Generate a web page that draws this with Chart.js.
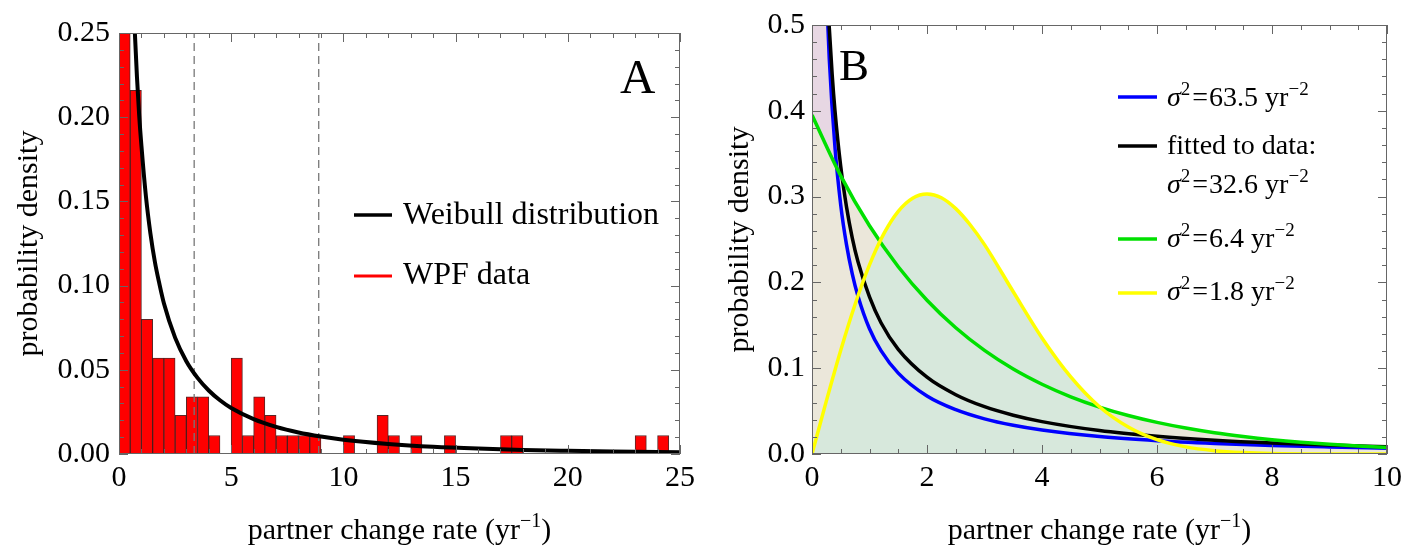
<!DOCTYPE html>
<html><head><meta charset="utf-8">
<script src="https://cdn.jsdelivr.net/npm/chart.js@4/dist/chart.umd.min.js"></script>
<style>
html,body{margin:0;padding:0;background:#fff;width:1408px;height:550px;overflow:hidden}
#wa{position:absolute;left:0;top:0;width:704px;height:550px}
#wb{position:absolute;left:704px;top:0;width:704px;height:550px}
</style></head><body>
<div id="wa"><canvas id="ca" width="704" height="550"></canvas></div>
<div id="wb"><canvas id="cb" width="704" height="550"></canvas></div>
<script>
// ---------- Panel A data ----------
const histBinCenters = [0.25,0.75,1.25,1.75,2.25,2.75,3.25,3.75,4.25,5.25,5.75,6.25,6.75,7.25,7.75,8.25,8.75,10.25,11.75,12.25,13.25,14.75,17.25,17.75,23.25,24.25];
const histDensity    = [0.33,0.216,0.080,0.057,0.057,0.023,0.034,0.034,0.011,0.057,0.011,0.034,0.023,0.011,0.011,0.011,0.011,0.011,0.023,0.011,0.011,0.011,0.011,0.011,0.011,0.011];
const weibullX = [0.6,0.7,0.8,0.9,1.0,1.2,1.4,1.6,1.8,2.0,2.5,3,3.5,4,4.5,5,6,7,8,9,10,12,14,16,18,20,22,25];
const weibullY = [0.288,0.252,0.224,0.201,0.183,0.153,0.131,0.114,0.101,0.0895,0.0691,0.0551,0.0452,0.0377,0.0319,0.0273,0.0207,0.0161,0.0128,0.0104,0.0085,0.0060,0.0043,0.0032,0.0024,0.0019,0.0015,0.0011];
const dashedLineX = [3.35, 8.9];
const aXTicks = [0,5,10,15,20,25];
const aYTicks = [0,0.05,0.10,0.15,0.20,0.25];

// ---------- Panel B data ----------
const blueX  = [0.01,0.05,0.1,0.2,0.25,0.3,0.4,0.5,0.6,0.7,0.8,1.0,1.2,1.5,2,2.5,3,3.5,4,5,6,7,8,9,10];
const blueY  = [5.92,1.92,1.139,0.652,0.540,0.461,0.357,0.290,0.244,0.210,0.184,0.146,0.1205,0.0943,0.0676,0.0516,0.0409,0.0334,0.0279,0.0203,0.0155,0.0123,0.0099,0.0082,0.0068];
const blackX = [0.01,0.05,0.1,0.2,0.25,0.3,0.35,0.4,0.5,0.6,0.7,0.8,1.0,1.2,1.5,2,2.5,3,3.5,4,5,6,7,8,9,10];
const blackY = [4.05,1.62,1.058,0.666,0.568,0.4975,0.443,0.400,0.335,0.288,0.252,0.224,0.183,0.153,0.122,0.0895,0.0691,0.0551,0.0452,0.0377,0.0273,0.0207,0.0161,0.0128,0.0104,0.0085];
const greenX = [0,0.5,1,1.5,2,2.5,3,3.5,4,4.5,5,5.5,6,6.5,7,7.5,8,8.5,9,9.5,10];
const greenY = [0.395,0.3242,0.266,0.2183,0.1792,0.1471,0.1207,0.099,0.0813,0.0667,0.0547,0.0449,0.0369,0.0303,0.0248,0.0204,0.0167,0.0137,0.0113,0.0092,0.0076];
const yellowX = [0,0.25,0.5,0.75,1,1.25,1.5,1.75,2,2.25,2.5,2.75,3,3.5,4,4.5,5,5.5,6,6.5,7,7.5,8,9,10];
const yellowY = [0,0.0619,0.121,0.1746,0.2204,0.2568,0.2828,0.2981,0.303,0.2987,0.286,0.2672,0.244,0.1891,0.1353,0.0899,0.0551,0.0315,0.0167,0.0083,0.0039,0.0017,0.0007,0.0001,0];
const bXTicks = [0,2,4,6,8,10];
const bYTicks = [0,0.1,0.2,0.3,0.4,0.5];
const bSigmaLabels = ['63.5','32.6','6.4','1.8'];

// ---------- helpers ----------
const FAM = '"Liberation Serif", "Times New Roman", serif';
const pts = (xs, ys) => xs.map((x, i) => ({x, y: ys[i]}));

function fontStr(s){ return (s.italic ? 'italic ' : '') + s.size + 'px ' + FAM; }
function drawRich(ctx, x, y, segs, align){
  const w = segs.map(s => { if (s.gap) return s.gap; ctx.font = fontStr(s); return ctx.measureText(s.t).width; });
  const total = w.reduce((a,b)=>a+b,0);
  let cx = align === 'center' ? x - total/2 : x;
  segs.forEach((s,i) => {
    if (!s.gap) { ctx.font = fontStr(s); ctx.fillText(s.t, cx, y + (s.dy || 0)); }
    cx += w[i];
  });
}
function sigmaSegs(val, size){
  const sup = Math.round(size*0.68);
  return [{t:'\u03C3', size, italic:true},{t:'2', size:sup, dy:-Math.round(size*0.4)},{gap:2},
          {t:'=', size},{gap:1},{t:val+' yr', size},{t:'\u22122', size:sup, dy:-Math.round(size*0.4)}];
}

const frameTicks = {
  id:'frameTicks',
  afterDatasetsDraw(chart, args, o){
    const {ctx, chartArea:a, scales:{x, y}} = chart;
    ctx.save();
    ctx.strokeStyle = '#666'; ctx.lineWidth = 1;
    const xt = (v, len) => { const p = Math.round(x.getPixelForValue(v)) + 0.5;
      ctx.beginPath(); ctx.moveTo(p, a.bottom); ctx.lineTo(p, a.bottom - len);
      ctx.moveTo(p, a.top); ctx.lineTo(p, a.top + len); ctx.stroke(); };
    const yt = (v, len) => { const p = Math.round(y.getPixelForValue(v)) + 0.5;
      ctx.beginPath(); ctx.moveTo(a.left, p); ctx.lineTo(a.left + len, p);
      ctx.moveTo(a.right, p); ctx.lineTo(a.right - len, p); ctx.stroke(); };
    for (let v = x.min; v <= x.max + 1e-9; v += o.xMinor) xt(v, 5);
    for (let v = y.min; v <= y.max + 1e-9; v += o.yMinor) yt(v, 5);
    x.ticks.forEach(t => xt(t.value, 9));
    y.ticks.forEach(t => yt(t.value, 9));
    ctx.strokeRect(a.left + 0.5, a.top + 0.5, a.right - a.left - 1, a.bottom - a.top - 1);
    ctx.restore();
  }
};

const textsA = {
  id:'textsA',
  afterDraw(chart){
    const ctx = chart.ctx, a = chart.chartArea;
    ctx.save(); ctx.fillStyle = '#000'; ctx.textBaseline = 'alphabetic';
    ctx.font = '49px ' + FAM; ctx.fillText('A', 620, 93);
    // legend
    ctx.lineWidth = 3.5; ctx.strokeStyle = '#000';
    ctx.beginPath(); ctx.moveTo(354, 215); ctx.lineTo(392, 215); ctx.stroke();
    ctx.strokeStyle = '#ff0000'; ctx.lineWidth = 3;
    ctx.beginPath(); ctx.moveTo(354, 276); ctx.lineTo(392, 276); ctx.stroke();
    ctx.font = '32px ' + FAM;
    ctx.fillText('Weibull distribution', 403, 224);
    ctx.fillText('WPF data', 403, 284);
    // x title
    drawRich(ctx, (a.left + a.right)/2, 539, [{t:'partner change rate (yr', size:30},{t:'\u22121', size:20, dy:-12},{t:')', size:30}], 'center');
    ctx.restore();
  }
};
const textsB = {
  id:'textsB',
  afterDraw(chart){
    const ctx = chart.ctx, a = chart.chartArea;
    ctx.save(); ctx.fillStyle = '#000'; ctx.textBaseline = 'alphabetic';
    ctx.font = '45px ' + FAM; ctx.fillText('B', 135, 80);
    const lx0 = 414, lx1 = 453, tx = 463, fs = 28;
    const rows = [
      {c:'#0000ff', ly:97,  lines:[[sigmaSegs(bSigmaLabels[0], fs), 106]]},
      {c:'#000000', ly:146, lines:[[[{t:'fitted to data:', size:fs}], 154],[sigmaSegs(bSigmaLabels[1], fs), 193]]},
      {c:'#00e000', ly:239, lines:[[sigmaSegs(bSigmaLabels[2], fs), 247]]},
      {c:'#ffff00', ly:293, lines:[[sigmaSegs(bSigmaLabels[3], fs), 300]]}
    ];
    rows.forEach(r => {
      ctx.strokeStyle = r.c; ctx.lineWidth = 3.5;
      ctx.beginPath(); ctx.moveTo(lx0, r.ly); ctx.lineTo(lx1, r.ly); ctx.stroke();
      r.lines.forEach(([segs, by]) => drawRich(ctx, tx, by, segs, 'left'));
    });
    drawRich(ctx, (a.left + a.right)/2, 539, [{t:'partner change rate (yr', size:30},{t:'\u22121', size:20, dy:-12},{t:')', size:30}], 'center');
    ctx.restore();
  }
};

function scaleOpts(o){
  return {
    type:'linear', min:o.min, max:o.max, offset:false,
    grid:{display:false, drawTicks:false}, border:{display:false},
    ticks:{font:{family:FAM, size:o.fs}, color:'#000', padding:o.pad, maxRotation:0, autoSkip:false, callback:o.fmt},
    afterBuildTicks: s => { s.ticks = o.ticks.map(v => ({value:v})); },
    afterFit: s => { if (o.w !== undefined) s.width = o.w; if (o.h !== undefined) s.height = o.h; },
    title: o.title ? {display:true, text:o.title, font:{family:FAM, size:30}, color:'#000', padding:{top:o.titlePad, bottom:0}} : {display:false}
  };
}

// ---------- Chart A ----------
new Chart(document.getElementById('ca'), {
  type:'bar',
  data:{datasets:[
    {type:'line', data:pts(weibullX, weibullY), borderColor:'#000', borderWidth:4, pointRadius:0, cubicInterpolationMode:'monotone', fill:false},
    {type:'line', data:[{x:dashedLineX[0], y:0},{x:dashedLineX[0], y:0.25}], borderColor:'#777', borderWidth:1.3, borderDash:[8,5], pointRadius:0, fill:false},
    {type:'line', data:[{x:dashedLineX[1], y:0},{x:dashedLineX[1], y:0.25}], borderColor:'#777', borderWidth:1.3, borderDash:[8,5], pointRadius:0, fill:false},
    {type:'bar', data:pts(histBinCenters, histDensity), backgroundColor:'#ff0000', borderColor:'rgba(60,0,0,0.85)', borderWidth:1, barPercentage:1, categoryPercentage:1}
  ]},
  options:{
    responsive:false, devicePixelRatio:1, animation:false, events:[],
    layout:{padding:{left:0, right:24, top:33, bottom:0}},
    plugins:{legend:{display:false}, tooltip:{enabled:false}, frameTicks:{xMinor:1, yMinor:0.01}},
    scales:{
      x: scaleOpts({min:0, max:25, fs:30, pad:6, ticks:aXTicks, fmt:v => String(v), h:96}),
      y: scaleOpts({min:0, max:0.25, fs:30, pad:9, ticks:aYTicks, fmt:v => v.toFixed(2), w:119, title:'probability density', titlePad:11})
    }
  },
  plugins:[frameTicks, textsA]
});

// ---------- Chart B ----------
const lineDs = (xs, ys, color, fillColor) => ({type:'line', data:pts(xs, ys), borderColor:color, borderWidth:3.5, pointRadius:0,
  cubicInterpolationMode:'monotone', fill:'origin', backgroundColor:fillColor});
new Chart(document.getElementById('cb'), {
  type:'line',
  data:{datasets:[
    lineDs(yellowX, yellowY, '#ffff00', 'rgb(215,232,220)'),
    lineDs(greenX, greenY, '#00e000', 'rgb(235,231,218)'),
    lineDs(blackX, blackY, '#000000', 'rgb(231,215,227)'),
    lineDs(blueX, blueY, '#0000ff', 'rgb(231,215,227)')
  ]},
  options:{
    responsive:false, devicePixelRatio:1, animation:false, events:[],
    layout:{padding:{left:0, right:19, top:22, bottom:0}},
    plugins:{legend:{display:false}, tooltip:{enabled:false}, filler:{drawTime:'beforeDatasetsDraw'}, frameTicks:{xMinor:0.5, yMinor:0.02}},
    scales:{
      x: scaleOpts({min:0, max:10, fs:30, pad:6, ticks:bXTicks, fmt:v => String(v), h:96}),
      y: scaleOpts({min:0, max:0.5, fs:30, pad:7, ticks:bYTicks, fmt:v => v.toFixed(1), w:108, title:'probability density', titlePad:18})
    }
  },
  plugins:[frameTicks, textsB]
});
</script>
</body></html>
